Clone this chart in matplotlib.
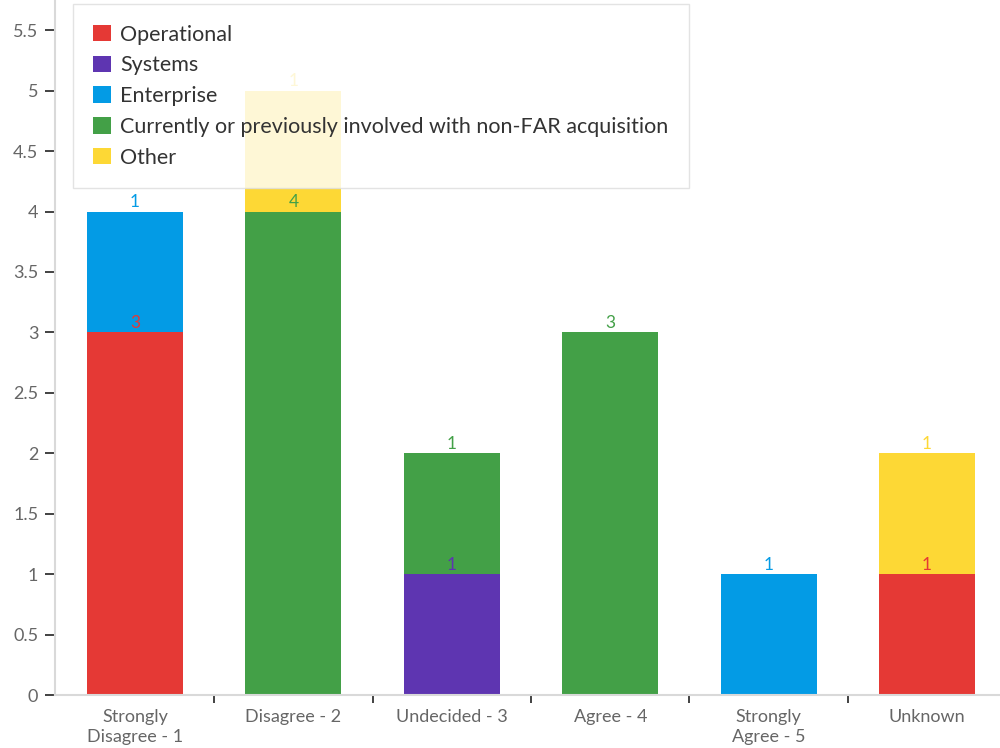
import numpy as np
import matplotlib
matplotlib.use("Agg")
from matplotlib import pyplot as plt
from matplotlib.ticker import FixedLocator

categories = ["Strongly\nDisagree - 1", "Disagree - 2", "Undecided - 3",
              "Agree - 4", "Strongly\nAgree - 5", "Unknown"]
series_names = ["Operational", "Systems", "Enterprise",
                "Currently or previously involved with non-FAR acquisition", "Other"]
operational = [3, 0, 0, 0, 0, 1]
systems = [0, 0, 1, 0, 0, 0]
enterprise = [1, 0, 0, 0, 1, 0]
non_far = [0, 4, 1, 3, 0, 0]
other = [0, 1, 0, 0, 0, 1]
colors = ["#e53935", "#5e35b1", "#039be5", "#43a047", "#fdd835"]

plt.rcParams['font.family'] = ['Lato', 'DejaVu Sans']

fig = plt.figure(figsize=(10, 7.48), dpi=100)
ax = fig.add_axes([0.055, 53 / 748, 0.945, 1 - 53 / 748])

x = np.arange(len(categories))
bottom = np.zeros(len(categories))
for name, vals, c in zip(series_names, [operational, systems, enterprise, non_far, other], colors):
    vals = np.array(vals, dtype=float)
    ax.bar(x, vals, width=0.606, bottom=bottom, color=c, label=name, zorder=2)
    for xi, v, b in zip(x, vals, bottom):
        if v > 0:
            ax.text(xi, b + v + 0.01, "%d" % v, ha='center', va='bottom',
                    color=c, fontsize=12.5, zorder=3)
    bottom += vals

ax.set_xlim(-0.505, 5.46)
ax.set_ylim(0, 5.75)
ax.set_yticks(np.arange(0, 5.51, 0.5))
ax.set_yticklabels(["0", "0.5", "1", "1.5", "2", "2.5", "3", "3.5", "4", "4.5", "5", "5.5"])
ax.set_xticks(x)
ax.set_xticklabels(categories)
ax.xaxis.set_minor_locator(FixedLocator(x[:-1] + 0.5))

for s in ['top', 'right']:
    ax.spines[s].set_visible(False)
ax.spines['left'].set_color('#d9d9d9')
ax.spines['bottom'].set_color('#d9d9d9')
ax.spines['left'].set_linewidth(1.5)
ax.spines['bottom'].set_linewidth(1.5)

ax.tick_params(axis='y', length=7, width=1.3, color='#333333', labelcolor='#666666',
               labelsize=13, pad=5)
ax.tick_params(axis='x', which='major', length=0, labelcolor='#666666', labelsize=13, pad=10)
ax.tick_params(axis='x', which='minor', length=6, width=1.3, color='#333333', direction='out')
for lab in ax.get_xticklabels():
    lab.set_linespacing(1.3)

leg = ax.legend(loc='upper left', bbox_to_anchor=(0.019, 0.994), borderaxespad=0,
                fontsize=15.5, frameon=True, fancybox=False, handlelength=0.8,
                handleheight=0.8, handletextpad=0.45, labelspacing=0.5,
                borderpad=0.95, labelcolor='#333333')
leg.get_frame().set_facecolor('white')
leg.get_frame().set_alpha(0.8)
leg.get_frame().set_edgecolor('#dddddd')
leg.set_zorder(5)

plt.savefig('out.png', dpi=100)
